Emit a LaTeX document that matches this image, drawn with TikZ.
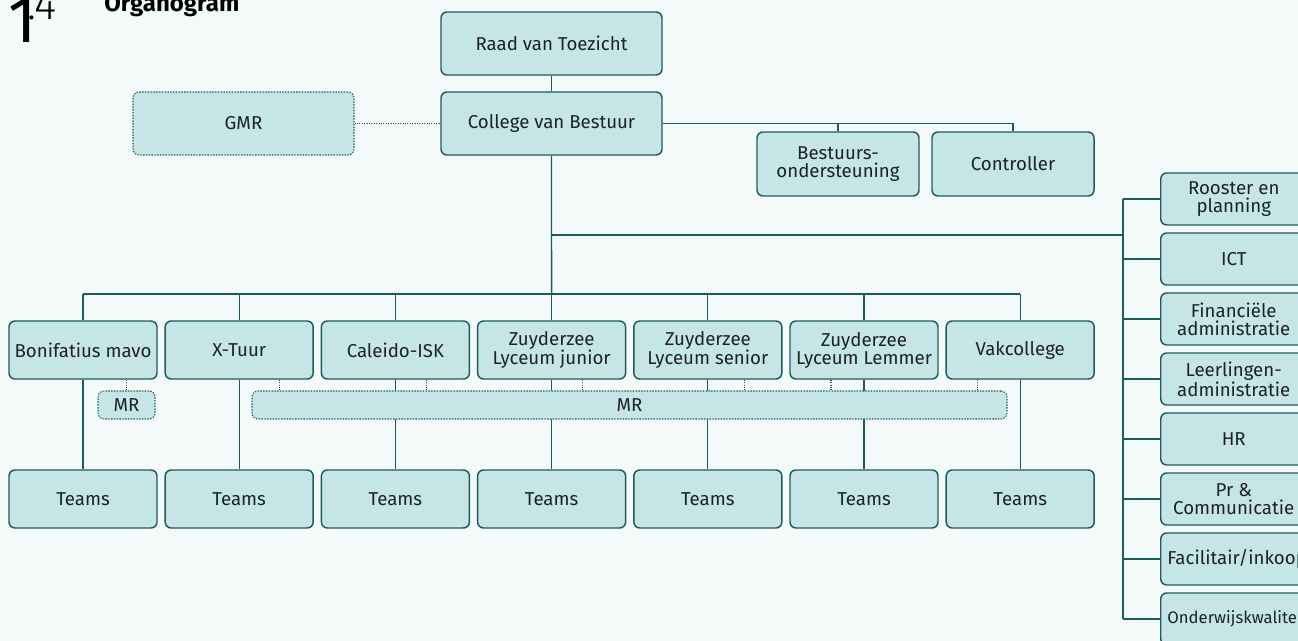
\documentclass[tikz,border=0pt]{standalone}
\usepackage{fontspec}
\setmainfont{Fira Sans}
\newfontfamily\firalight{Fira Sans Light}
\usetikzlibrary{calc}
\definecolor{pagebg}{HTML}{F4FAFA}
\definecolor{boxfill}{HTML}{C5E5E6}
\definecolor{orgline}{HTML}{1D5C5C}
\definecolor{orgtext}{HTML}{1E2222}

\begin{document}
\begin{tikzpicture}[x=0.75pt,y=-0.75pt,
    box/.style={draw=orgline, fill=boxfill, line width=1.1pt, rounded corners=4.5pt,
        inner sep=0pt, align=center, text=orgtext, font=\fontsize{14}{13.5}\selectfont},
    topbox/.style={box, minimum width=165.75pt, minimum height=47.25pt},
    staffbox/.style={box, minimum width=121.5pt, minimum height=48pt},
    schoolbox/.style={box, minimum width=111pt, minimum height=43.5pt},
    sidebox/.style={box, anchor=west, inner xsep=5pt, minimum width=109.5pt, minimum height=39pt},
    mrbox/.style={box, draw=orgline, densely dotted, line width=0.8pt, minimum height=21pt},
    line/.style={draw=orgline, line width=1pt},
    dotline/.style={draw=orgline, densely dotted, line width=0.8pt}]

    \fill[pagebg] (0,0) rectangle (1298,641);
    \clip (0,0) rectangle (1298,641);

    % title
    \node[anchor=base west, inner sep=0pt, font=\fontsize{49}{49}\selectfont] (num) at (8,43) {1};
    \node[anchor=base west, inner sep=0pt, font=\fontsize{32}{32}\firalight] (sub) at (27,20) {.4};
    \node[anchor=base west, inner sep=0pt, font=\fontsize{18}{18}\selectfont\bfseries] (title) at (104,12) {Organogram};

    % top
    \node[topbox] (rvt) at (551.5,43.5) {Raad van Toezicht};
    \node[topbox] (cvb) at (551.5,123.5) {College van Bestuur};
    \node[topbox, densely dotted, line width=0.8pt] (gmr) at (243.5,123.5) {GMR};
    \node[staffbox] (bo) at (838,164) {Bestuurs-\\ondersteuning};
    \node[staffbox] (ctrl) at (1013,164) {Controller};

    \draw[line] (rvt) -- (cvb);
    \draw[dotline] (gmr) -- (cvb);
    \draw[line] (cvb.east) -| (ctrl.north);
    \draw[line] (bo.north) -- (bo.north |- cvb.east);

    % schools
    \node[schoolbox] (s1) at (83,350) {Bonifatius mavo};
    \node[schoolbox] (s2) at (239.2,350) {X-Tuur};
    \node[schoolbox] (s3) at (395.4,350) {Caleido-ISK};
    \node[schoolbox] (s4) at (551.6,350) {Zuyderzee\\Lyceum junior};
    \node[schoolbox] (s5) at (707.8,350) {Zuyderzee\\Lyceum senior};
    \node[schoolbox] (s6) at (864,350) {Zuyderzee\\Lyceum Lemmer};
    \node[schoolbox] (s7) at (1020.2,350) {Vakcollege};
    \foreach \i in {1,...,7}
        \node[schoolbox] (t\i) at (s\i |- 0,499) {Teams};

    \coordinate (bus) at (551.6,294);
    \draw[line] (cvb) -- (bus);
    \draw[line] (s1.north |- bus) -- (s7.north |- bus);
    \foreach \i in {1,...,7} {
        \draw[line] (s\i.north) -- (s\i.north |- bus);
        \draw[line] (s\i) -- (t\i);
    }

    % mr
    \node[mrbox, minimum width=42.75pt] (mrs) at (126.5,405) {MR};
    \node[mrbox, minimum width=566.25pt] (mrb) at (629.5,405) {MR};
    \draw[dotline] (mrs.north) -- (mrs.north |- s1.south);
    \foreach \i/\d in {2/40,3/31,4/31,5/37,6/-33,7/-43}
        \draw[dotline] ($(s\i.south)+(\d,0)$) coordinate (d\i) -- (d\i |- mrb.north);

    % support services
    \node[sidebox] (r1) at (1160,199) {Rooster en\\planning};
    \node[sidebox] (r2) at (1160,259) {ICT};
    \node[sidebox] (r3) at (1160,319) {Financiële\\administratie};
    \node[sidebox] (r4) at (1160,379) {Leerlingen-\\administratie};
    \node[sidebox] (r5) at (1160,439) {HR};
    \node[sidebox] (r6) at (1160,499) {Pr \&\\Communicatie};
    \node[sidebox] (r7) at (1160,559) {Facilitair/inkoop};
    \node[sidebox, font=\fontsize{12.5}{13.5}\selectfont] (r8) at (1160,619) {Onderwijskwaliteit};

    \coordinate (side) at (1123,235);
    \draw[line] (cvb |- side) -- (side);
    \draw[line] (r1.west -| side) -- (r8.west -| side);
    \foreach \i in {1,...,8}
        \draw[line] (r\i.west) -- (r\i.west -| side);
\end{tikzpicture}
\end{document}
